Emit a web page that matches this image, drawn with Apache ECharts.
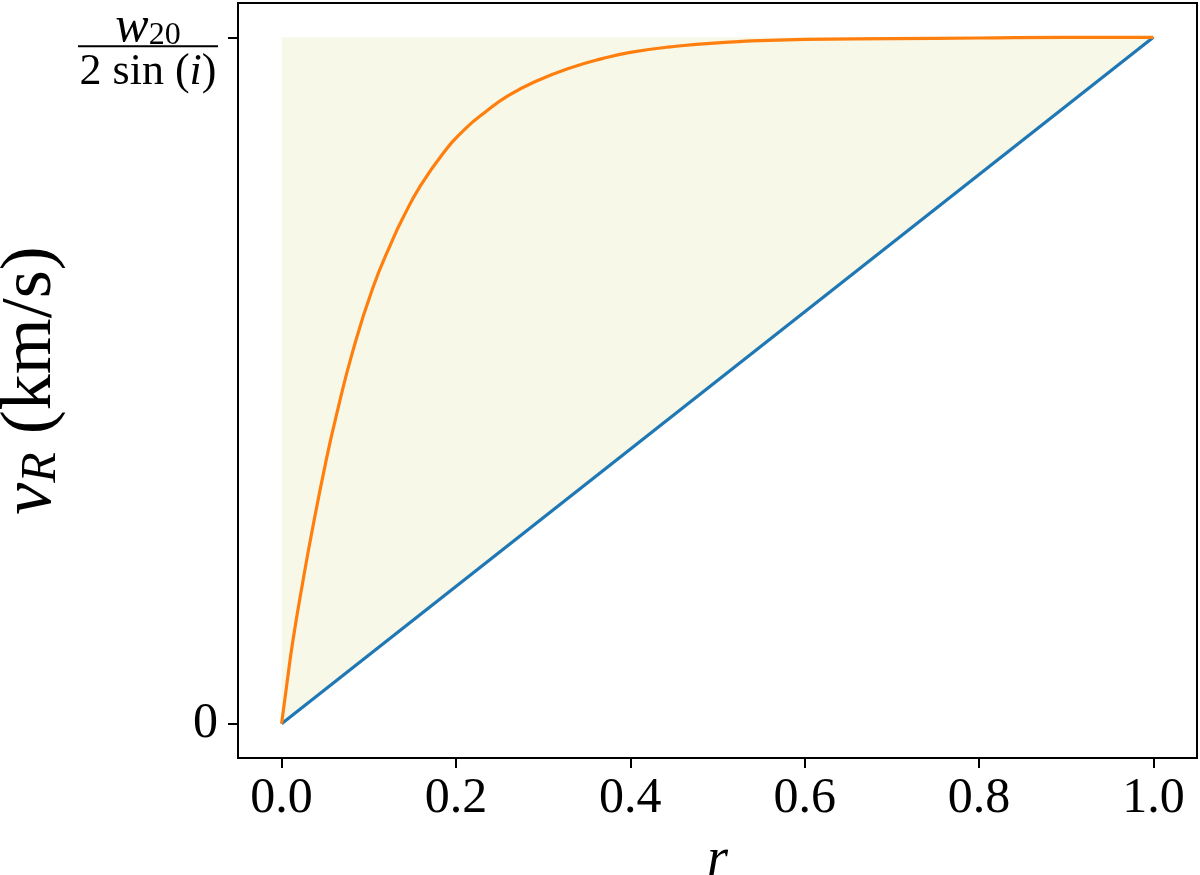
<!DOCTYPE html>
<html>
<head>
<meta charset="utf-8">
<script src="https://cdn.jsdelivr.net/npm/echarts@6/dist/echarts.min.js"></script>
<style>html,body{margin:0;padding:0;background:#fff}#c{width:1200px;height:875px}</style>
</head>
<body>
<div id="c"></div>
<script>
// ---- data ----
const xTicks = [0, 0.2, 0.4, 0.6, 0.8, 1.0];
const yTicks = [0, 1];
const linearR = [0, 1];
const linearV = [0, 1];
const curveR = [0, 0.0065, 0.0126, 0.0241, 0.0356, 0.051, 0.0624, 0.0815, 0.1044, 0.1273, 0.14, 0.158, 0.1847, 0.21, 0.2345, 0.26, 0.2918, 0.33, 0.368, 0.40, 0.445, 0.5, 0.6, 0.7, 0.8, 0.9, 1.0];
const curveV = [0, 0.062, 0.118, 0.205, 0.285, 0.383, 0.447, 0.542, 0.634, 0.705, 0.739, 0.781, 0.830, 0.866, 0.892, 0.915, 0.936, 0.955, 0.969, 0.978, 0.986, 0.992, 0.997, 0.998, 0.999, 1.0, 1.0];
const fillR = [0, 0, 1];
const fillV = [0, 1, 1];

const serif = '"Liberation Serif", "DejaVu Serif", serif';
const zip = (a, b) => a.map((v, i) => [v, b[i]]);

const chart = echarts.init(document.getElementById('c'), null, {renderer: 'canvas'});
chart.setOption({
  animation: false,
  backgroundColor: '#fff',
  grid: {left: 238, right: 3, top: 3, bottom: 117, show: true, borderColor: '#000', borderWidth: 2,
    backgroundColor: 'transparent', containLabel: false, outerBoundsMode: 'none'},
  xAxis: {
    type: 'value', min: -0.05, max: 1.05,
    name: 'r', nameLocation: 'middle', nameGap: 76,
    nameTextStyle: {fontFamily: serif, fontStyle: 'italic', fontSize: 54, color: '#000'},
    axisLine: {show: true, onZero: false, lineStyle: {color: '#000', width: 2}},
    axisTick: {show: true, length: 10, lineStyle: {color: '#000', width: 2}, customValues: xTicks},
    axisLabel: {customValues: xTicks, margin: 16, color: '#000', fontFamily: serif, fontSize: 50,
      formatter: v => v.toFixed(1)},
    splitLine: {show: false}
  },
  yAxis: {
    type: 'value', min: -0.05, max: 1.05,
    name: '{v|v}{sub|R}{t| (km/s)}', nameLocation: 'middle', nameGap: 168, nameRotate: 90,
    nameTextStyle: {color: '#000', rich: {
      v: {fontFamily: serif, fontStyle: 'italic', fontSize: 72, color: '#000'},
      sub: {fontFamily: serif, fontStyle: 'italic', fontSize: 50, color: '#000', verticalAlign: 'bottom'},
      t: {fontFamily: serif, fontSize: 72, color: '#000'}
    }},
    axisLine: {show: true, onZero: false, lineStyle: {color: '#000', width: 2}},
    axisTick: {show: true, length: 10, lineStyle: {color: '#000', width: 2}, customValues: yTicks},
    axisLabel: {customValues: yTicks, margin: 20, color: '#000', fontFamily: serif, fontSize: 50,
      formatter: v => v === 0 ? '{zero|0}' : '{sp| }\n{num|w}{sub|20}\n{bar| }\n{den|2 sin (}{it|i}{den|)}',
      rich: {
        zero: {fontFamily: serif, fontSize: 50, color: '#000'},
        sp: {fontSize: 2, lineHeight: 24, align: 'center'},
        num: {fontFamily: serif, fontStyle: 'italic', fontSize: 50, lineHeight: 40, color: '#000', align: 'center', verticalAlign: 'top'},
        sub: {fontFamily: serif, fontSize: 32, lineHeight: 24, padding: [16, 0, 0, 0], color: '#000', verticalAlign: 'top', align: 'center'},
        bar: {width: 140, height: 2, fontSize: 2, lineHeight: 6, backgroundColor: '#000', align: 'center'},
        den: {fontFamily: serif, fontSize: 44, lineHeight: 46, color: '#000', align: 'center'},
        it: {fontFamily: serif, fontStyle: 'italic', fontSize: 44, lineHeight: 46, color: '#000', align: 'center'}
      }},
    splitLine: {show: false}
  },
  series: [
    {
      type: 'custom', z: 1, silent: true,
      data: zip(fillR, fillV),
      encode: {x: 0, y: 1},
      renderItem: (params, api) => {
        if (params.dataIndex !== 0) return null;
        const pts = fillR.map((r, i) => api.coord([r, fillV[i]]));
        return {type: 'polygon', shape: {points: pts}, style: {fill: '#f8f8e8'}};
      }
    },
    {
      type: 'line', z: 3, data: zip(linearR, linearV), showSymbol: false,
      lineStyle: {color: '#1f77b4', width: 3.2}
    },
    {
      type: 'line', z: 4, data: zip(curveR, curveV), showSymbol: false,
      smooth: 0.5,
      lineStyle: {color: '#ff7f0e', width: 3.2}
    }
  ]
});
</script>
</body>
</html>
